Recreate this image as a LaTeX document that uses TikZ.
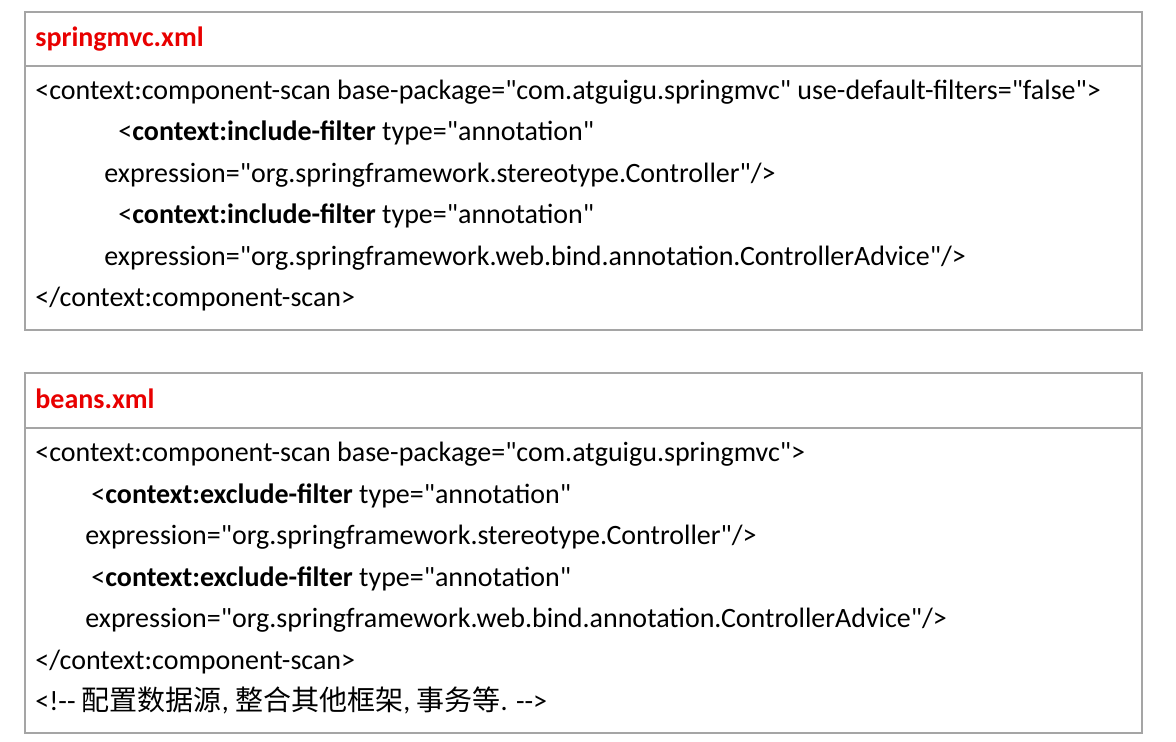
\documentclass[tikz,border=0pt]{standalone}
\usepackage{fontspec}
\setmainfont[Ligatures=TeXOff]{Carlito}
\newfontfamily\cjk{Noto Sans CJK SC}
\definecolor{boxgray}{RGB}{165,165,165}
\definecolor{hdrred}{RGB}{232,0,0}
\tikzset{xmlbox/.style={draw=boxgray, line width=1.4pt}}
\tikzset{xmlline/.style={anchor=mid west, inner sep=0pt, font=\fontsize{14}{17}\selectfont}}
\tikzset{xmlhead/.style={xmlline, text=hdrred, font=\fontsize{14}{17}\selectfont\bfseries}}

\begin{document}
\begin{tikzpicture}[x=0.5pt, y=-0.5pt]
    \newcommand\posL{35}
    \newcommand\posR{1142}
    \newcommand\posB{25}
    \newcommand\posIa{118}
    \newcommand\posEa{104}
    \newcommand\posIb{91}
    \newcommand\posEb{85}

    \useasboundingbox (0,0) rectangle (1176,741);

    % springmvc.xml
    \draw[xmlbox] (\posB, 12) rectangle (\posR, 330);
    \draw[xmlbox] (\posB, 66) -- (\posR, 66);
    \node[xmlhead] (hdrS) at (\posL, 42){springmvc.xml};
    \node[xmlline] (scanS) at (\posL, 95){<context:component-scan base-package="com.atguigu.springmvc" use-default-filters="false">};
    \node[xmlline] (incA) at (\posIa, 136){<\textbf{context:include-filter} type="annotation"};
    \node[xmlline] (expA) at (\posEa, 178){expression="org.springframework.stereotype.Controller"/>};
    \node[xmlline] (incB) at (\posIa, 219){<\textbf{context:include-filter} type="annotation"};
    \node[xmlline] (expB) at (\posEa, 261){expression="org.springframework.web.bind.annotation.ControllerAdvice"/>};
    \node[xmlline] (endS) at (\posL, 302){</context:component-scan>};

    % beans.xml
    \draw[xmlbox] (\posB, 373) rectangle (\posR, 733);
    \draw[xmlbox] (\posB, 428) -- (\posR, 428);
    \node[xmlhead] (hdrB) at (\posL, 404){beans.xml};
    \node[xmlline] (scanB) at (\posL, 457){<context:component-scan base-package="com.atguigu.springmvc">};
    \node[xmlline] (excA) at (\posIb, 499){<\textbf{context:exclude-filter} type="annotation"};
    \node[xmlline] (expC) at (\posEb, 540){expression="org.springframework.stereotype.Controller"/>};
    \node[xmlline] (excB) at (\posIb, 582){<\textbf{context:exclude-filter} type="annotation"};
    \node[xmlline] (expD) at (\posEb, 623){expression="org.springframework.web.bind.annotation.ControllerAdvice"/>};
    \node[xmlline] (endB) at (\posL, 665){</context:component-scan>};
    \node[xmlline] (cmtB) at (\posL, 706){<!-- {\cjk 配置数据源}, {\cjk 整合其他框架}, {\cjk 事务等}. -->};
\end{tikzpicture}
\end{document}
